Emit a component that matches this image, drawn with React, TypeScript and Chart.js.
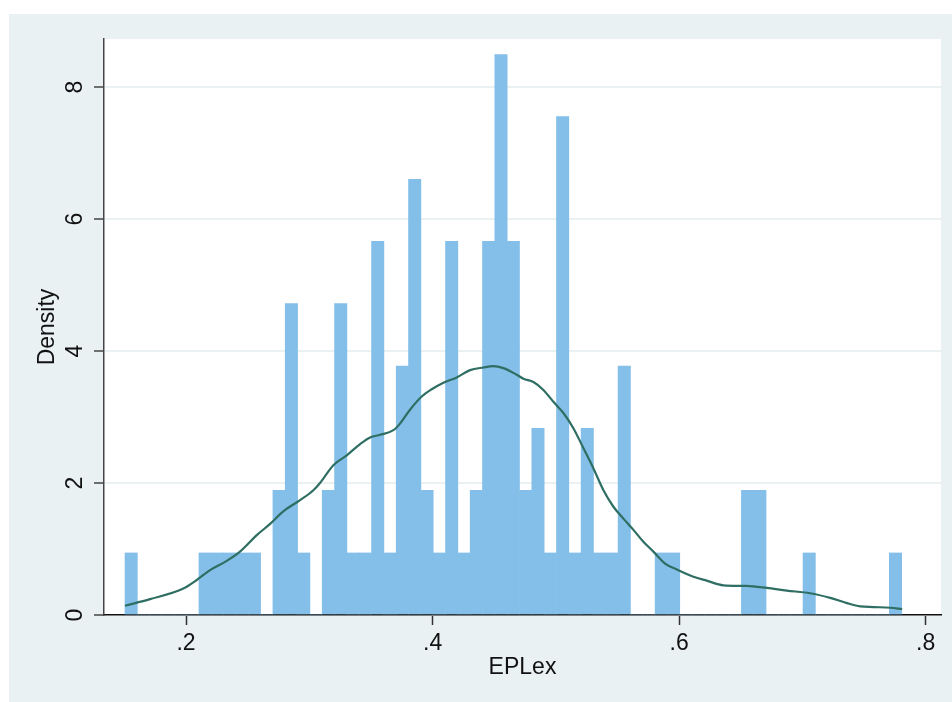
import React, { useEffect, useRef } from "react";
import { Chart, registerables } from "chart.js";

Chart.register(...registerables);

// Histogram: bins of width 0.01 starting at 0.1505 (density values)
const binStart = 0.1505;
const binWidth = 0.01;
const densities = [
  0.94, 0, 0, 0, 0, 0, 0.94, 0.94, 0.94, 0.94, 0.94, 0,
  1.89, 4.72, 0.94, 0, 1.89, 4.72, 0.94, 0.94, 5.66, 0.94, 3.77, 6.6,
  1.89, 0.94, 5.66, 0.94, 1.89, 5.66, 8.49, 5.66, 1.89, 2.83, 0.94, 7.55,
  0.94, 2.83, 0.94, 0.94, 3.77, 0, 0, 0.94, 0.94, 0, 0, 0, 0, 0,
  1.89, 1.89, 0, 0, 0, 0.94, 0, 0, 0, 0, 0, 0, 0.94,
];

// Kernel density curve
const kdeX = [
  0.1505, 0.1708, 0.1978, 0.2087, 0.2195, 0.233, 0.2438, 0.2574, 0.2682, 0.2789,
  0.2925, 0.3033, 0.3087, 0.3195, 0.3304, 0.3412, 0.3493, 0.3574, 0.3682, 0.3736,
  0.3817, 0.3912, 0.3993, 0.4088, 0.4196, 0.4304, 0.4412, 0.4493, 0.4574, 0.4683,
  0.4737, 0.4818, 0.4899, 0.498, 0.5061, 0.5142, 0.5223, 0.5305, 0.5386, 0.5467,
  0.5548, 0.5629, 0.571, 0.5791, 0.5886, 0.5981, 0.6116, 0.6224, 0.6359, 0.6548,
  0.6711, 0.6873, 0.7063, 0.7225, 0.7361, 0.7469, 0.7578, 0.7712, 0.7809,
];
const kdeY = [
  0.14, 0.24, 0.4, 0.53, 0.68, 0.82, 0.96, 1.21, 1.38, 1.57,
  1.74, 1.89, 2.0, 2.27, 2.42, 2.59, 2.69, 2.73, 2.8, 2.9,
  3.11, 3.31, 3.42, 3.52, 3.6, 3.71, 3.75, 3.77, 3.74, 3.64,
  3.58, 3.53, 3.41, 3.23, 3.06, 2.83, 2.53, 2.22, 1.89, 1.64,
  1.46, 1.29, 1.11, 0.96, 0.78, 0.69, 0.58, 0.52, 0.45, 0.44,
  0.41, 0.37, 0.33, 0.26, 0.18, 0.13, 0.12, 0.11, 0.09,
];

const xTicks = [0.2, 0.4, 0.6, 0.8];
const yTicks = [0, 2, 4, 6, 8];
const xTitle = "EPLex";
const yTitle = "Density";

const FONT = "'Liberation Sans', Arial, Helvetica, sans-serif";
const PANEL = "#e9f1f3";

export default function App() {
  const ref = useRef<HTMLCanvasElement>(null);

  useEffect(() => {
    if (!ref.current) return;

    const bgPlugin = {
      id: "bgPanel",
      beforeDraw(chart: any) {
        const { ctx, chartArea: a } = chart;
        ctx.save();
        ctx.fillStyle = "#ffffff";
        ctx.fillRect(0, 0, chart.width, chart.height);
        ctx.fillStyle = PANEL;
        ctx.fillRect(9, 14, chart.width - 9, chart.height - 14);
        ctx.fillStyle = "#ffffff";
        ctx.fillRect(a.left, a.top, a.right - a.left, a.bottom - a.top);
        ctx.restore();
      },
    };

    const yLabelPlugin = {
      id: "yRotLabels",
      afterDraw(chart: any) {
        const { ctx } = chart;
        const s = chart.scales.y;
        ctx.save();
        ctx.fillStyle = "#111";
        ctx.font = `23px ${FONT}`;
        ctx.textAlign = "center";
        ctx.textBaseline = "middle";
        for (const t of s.ticks) {
          const py = s.getPixelForValue(t.value);
          ctx.save();
          ctx.translate(76, py);
          ctx.rotate(-Math.PI / 2);
          ctx.fillText(String(t.value), 0, 0);
          ctx.restore();
        }
        ctx.restore();
      },
    };

    const barData = densities.map((d, i) => ({
      x: binStart + binWidth * i + binWidth / 2,
      y: d,
    }));
    const lineData = kdeX.map((x, i) => ({ x, y: kdeY[i] }));

    const chart = new Chart(ref.current, {
      type: "bar",
      data: {
        datasets: [
          {
            type: "line",
            data: lineData,
            borderColor: "#2f6e62",
            borderWidth: 2.2,
            pointRadius: 0,
            fill: false,
            cubicInterpolationMode: "monotone",
            order: 0,
          } as any,
          {
            type: "bar",
            data: barData,
            backgroundColor: "#83bfe8",
            borderWidth: 0,
            barPercentage: 1,
            categoryPercentage: 1,
            order: 1,
          },
        ],
      },
      options: {
        animation: false,
        responsive: false,
        maintainAspectRatio: false,
        layout: { padding: { top: 39, right: 11, left: 0, bottom: 0 } },
        plugins: {
          legend: { display: false },
          tooltip: { enabled: false },
        },
        scales: {
          x: {
            type: "linear",
            offset: false,
            min: 0.13347,
            max: 0.81241,
            afterBuildTicks: (s: any) => {
              s.ticks = xTicks.map((v) => ({ value: v }));
            },
            afterFit: (s: any) => {
              s.height = 87;
            },
            ticks: {
              color: "#111",
              font: { family: FONT, size: 23 },
              padding: 5,
              maxRotation: 0,
              autoSkip: false,
              callback: (v: any) => Number(v).toFixed(1).replace(/^0/, ""),
            },
            grid: {
              offset: false,
              color: "rgba(0,0,0,0)",
              drawOnChartArea: false,
              tickColor: "#333",
              tickLength: 10,
              tickWidth: 1.5,
            },
            border: { color: "#111", width: 1.5 },
            title: {
              display: true,
              text: xTitle,
              color: "#111",
              font: { family: FONT, size: 23 },
              padding: { top: 0, bottom: 21 },
            },
          },
          y: {
            type: "linear",
            min: 0,
            max: 8.727,
            afterBuildTicks: (s: any) => {
              s.ticks = yTicks.map((v) => ({ value: v }));
            },
            afterFit: (s: any) => {
              s.width = 104;
            },
            ticks: { display: false },
            grid: {
              color: "#e9f1f3",
              lineWidth: 2,
              tickColor: "#444",
              tickLength: 10,
              tickWidth: 1.5,
            },
            border: { color: "#444", width: 1.5 },
            title: {
              display: true,
              text: yTitle,
              color: "#111",
              font: { family: FONT, size: 23 },
              padding: { top: 34, bottom: 0 },
            },
          },
        },
      },
      plugins: [bgPlugin, yLabelPlugin],
    });

    return () => chart.destroy();
  }, []);

  return (
    <div style={{ position: "absolute", left: 0, top: 0, width: 952, height: 702 }}>
      <canvas ref={ref} width={952} height={702} style={{ width: 952, height: 702, display: "block" }} />
    </div>
  );
}
